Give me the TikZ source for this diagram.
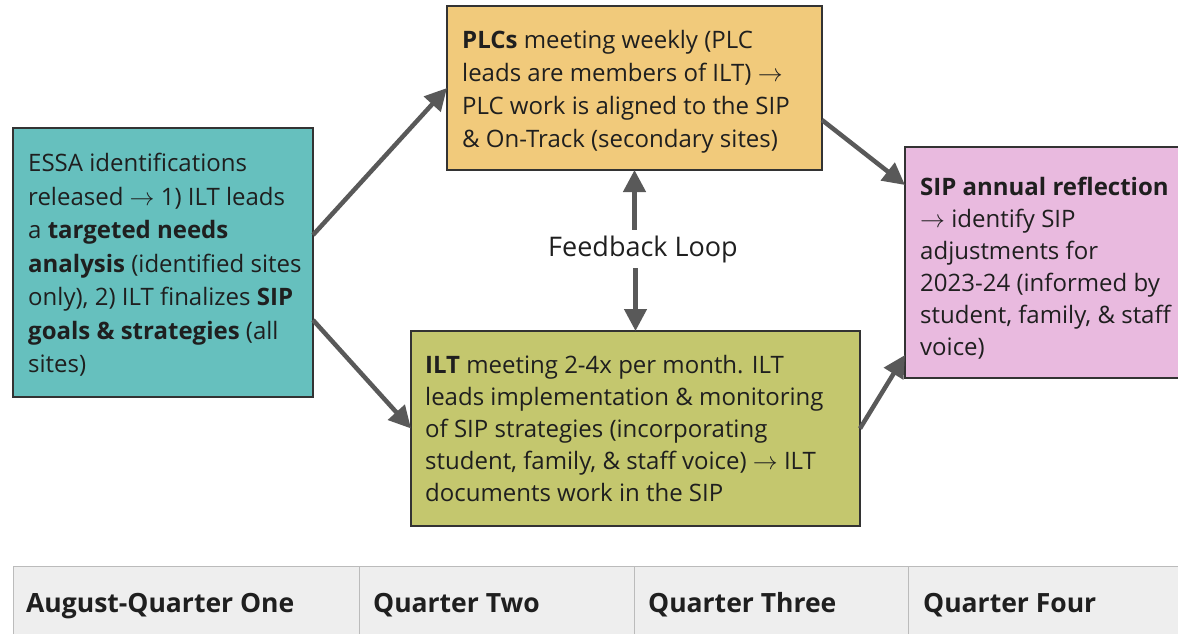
\documentclass[tikz,border=0pt]{standalone}
\usepackage{fontspec}
\setmainfont{Open Sans}
\usetikzlibrary{arrows.meta}
\definecolor{cteal}{HTML}{66C0BE}
\definecolor{corange}{HTML}{F1CA7B}
\definecolor{cpink}{HTML}{E9BADF}
\definecolor{cgreen}{HTML}{C4C76E}
\definecolor{boxline}{HTML}{333333}
\definecolor{arrowc}{HTML}{595959}
\definecolor{textc}{HTML}{1F1F1F}
\definecolor{cellfill}{HTML}{EEEEEE}
\definecolor{cellline}{HTML}{BBBBBB}
\begin{document}
\begin{tikzpicture}[x=1pt,y=-1pt,
  box/.style={draw=boxline, line width=1.8pt, inner sep=0pt, outer sep=0pt, anchor=north west},
  txt/.style={inner sep=0pt, anchor=north west, align=left, text=textc},
  conn/.style={draw=arrowc, line width=4.5pt, -{Triangle[length=22pt,width=22pt]}},
  cell/.style={draw=cellline, fill=cellfill, line width=1.2pt, inner sep=0pt, anchor=north west, minimum height=75pt},
  celltxt/.style={inner sep=0pt, anchor=base west, text=textc, font=\bfseries\fontsize{26.5}{30}\selectfont},
]
\useasboundingbox (0,0) rectangle (1178,633);
% boxes
\node[box, fill=cteal, minimum width=300pt, minimum height=269pt] (teal) at (13,128) {};
\node[box, fill=corange, minimum width=375pt, minimum height=164pt] (orange) at (447,6) {};
\node[box, fill=cpink, minimum width=285pt, minimum height=231pt] (pink) at (905,147) {};
\node[box, fill=cgreen, minimum width=449pt, minimum height=195pt] (green) at (411,331) {};
% texts
\node[txt, font=\fontsize{24}{33.5}\selectfont] (tealtxt) at (28,153) {ESSA identifications\\
released $\rightarrow$ 1) ILT leads\\
a \textbf{targeted needs}\\
\textbf{analysis} (identified sites\\
only), 2) ILT finalizes \textbf{SIP}\\
\textbf{goals \& strategies} (all\\
sites)};
\node[txt, font=\fontsize{24}{33}\selectfont] (orangetxt) at (462,30) {\textbf{PLCs} meeting weekly (PLC\\
leads are members of ILT) $\rightarrow$\\
PLC work is aligned to the SIP\\
\& On-Track (secondary sites)};
\node[txt, font=\fontsize{24}{32}\selectfont] (pinktxt) at (920,177) {\textbf{SIP annual reflection}\\
$\rightarrow$ identify SIP\\
adjustments for\\
2023-24 (informed by\\
student, family, \& staff\\
voice)};
\node[txt, font=\fontsize{24}{32}\selectfont] (greentxt) at (425,355) {\textbf{ILT} meeting 2-4x per month. ILT\\
leads implementation \& monitoring\\
of SIP strategies (incorporating\\
student, family, \& staff voice) $\rightarrow$ ILT\\
documents work in the SIP};
% feedback
\node[inner sep=0pt, minimum height=38pt, text=textc, font=\fontsize{27}{30}\selectfont] (fb) at (643,249) {Feedback Loop};
\draw[conn] (orange.south |- fb.north) -- (orange.south);
\draw[conn] (green.north |- fb.south) -- (green.north);
% connectors
\draw[conn] ([yshift=27.5pt]teal.east) -- (orange.west);
\draw[conn] ([yshift=-57.5pt]teal.east) -- (green.west);
\draw[conn] ([yshift=-32pt]orange.east) -- ([yshift=77.5pt]pink.west);
\draw[conn] (green.east) -- ([yshift=-92.5pt]pink.west);
% table
\node[cell, minimum width=346pt] (c1) at (13,566) {};
\node[cell, minimum width=275pt] (c2) at (359,566) {};
\node[cell, minimum width=274pt] (c3) at (634,566) {};
\node[cell, minimum width=280pt] (c4) at (908,566) {};
\node[celltxt] (t1) at (26,612) {August-Quarter One};
\node[celltxt] (t2) at (373,612) {Quarter Two};
\node[celltxt] (t3) at (648,612) {Quarter Three};
\node[celltxt] (t4) at (923,612) {Quarter Four};
\end{tikzpicture}
\end{document}
